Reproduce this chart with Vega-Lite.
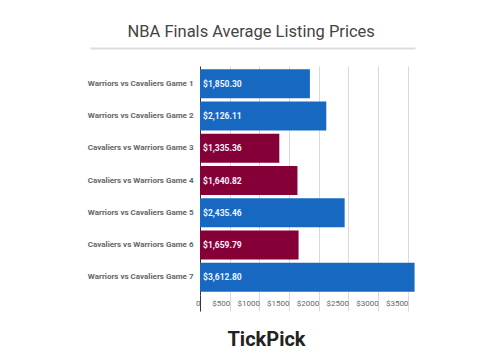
{
  "$schema": "https://vega.github.io/schema/vega-lite/v6.json",
  "width": 325,
  "height": 229,
  "padding": {"left": 87, "top": 23, "right": 88, "bottom": 5},
  "background": "white",
  "config": {"view": {"stroke": null}, "font": "Roboto"},
  "title": {
    "text": "NBA Finals Average Listing Prices",
    "fontSize": 16.5,
    "fontWeight": "normal",
    "color": "#444444",
    "font": "Roboto",
    "anchor": "middle",
    "frame": "bounds",
    "offset": 8
  },
  "data": {
    "values": [
      {"game": "Warriors vs Cavaliers Game 1", "price": 1850.30, "home": "Warriors"},
      {"game": "Warriors vs Cavaliers Game 2", "price": 2126.11, "home": "Warriors"},
      {"game": "Cavaliers vs Warriors Game 3", "price": 1335.36, "home": "Cavaliers"},
      {"game": "Cavaliers vs Warriors Game 4", "price": 1640.82, "home": "Cavaliers"},
      {"game": "Warriors vs Cavaliers Game 5", "price": 2435.46, "home": "Warriors"},
      {"game": "Cavaliers vs Warriors Game 6", "price": 1659.79, "home": "Cavaliers"},
      {"game": "Warriors vs Cavaliers Game 7", "price": 3612.80, "home": "Warriors"}
    ]
  },
  "resolve": {"scale": {"x": "independent"}, "axis": {"x": "independent"}},
  "layer": [
    {
      "layer": [
        {
          "mark": {"type": "bar"},
          "encoding": {
            "y": {
              "field": "game",
              "type": "nominal",
              "sort": null,
              "scale": {"paddingInner": 0.1, "paddingOuter": 0.1},
              "axis": {
                "title": null,
                "offset": -110,
                "ticks": false,
                "domain": true,
                "domainColor": "#333333",
                "domainWidth": 1,
                "labelPadding": 7,
                "labelFontSize": 8,
                "labelFontWeight": "bold",
                "labelColor": "#666666",
                "labelFont": "Roboto"
              }
            },
            "x": {
              "field": "price",
              "type": "quantitative",
              "scale": {"domain": [0, 3620], "range": [110, 325], "nice": false, "zero": true},
              "axis": {
                "orient": "bottom",
                "values": [0, 500, 1000, 1500, 2000, 2500, 3000, 3500],
                "labelExpr": "datum.value === 0 ? '0' : '$' + datum.value",
                "grid": true,
                "gridColor": "#d9d9d9",
                "domain": false,
                "ticks": true,
                "tickSize": 16,
                "tickColor": {"condition": {"test": "datum.value === 0", "value": "#333333"}, "value": "#d9d9d9"},
                "labelAlign": "right",
                "labelDx": -4,
                "labelPadding": -12,
                "labelFontSize": 8,
                "labelColor": "#666666",
                "labelFont": "Roboto",
                "title": "TickPick",
                "titleFontSize": 20,
                "titleFontWeight": "bold",
                "titleColor": "#222222",
                "titleFont": "Roboto",
                "titleX": 176,
                "titlePadding": 18
              }
            },
            "color": {
              "field": "home",
              "type": "nominal",
              "scale": {"domain": ["Warriors", "Cavaliers"], "range": ["#1768c0", "#860038"]},
              "legend": null
            }
          }
        },
        {
          "mark": {"type": "text", "align": "left", "baseline": "middle", "dx": 3, "fontSize": 8.5, "fontWeight": "bold", "color": "#f0f4ff", "font": "Roboto"},
          "encoding": {
            "y": {"field": "game", "type": "nominal", "sort": null},
            "x": {"datum": 0, "type": "quantitative"},
            "text": {"field": "price", "type": "quantitative", "format": "$,.2f"}
          }
        }
      ]
    },
    {
      "mark": {"type": "rule", "opacity": 0},
      "encoding": {
        "x": {
          "datum": 0,
          "type": "quantitative",
          "scale": {"domain": [0, 1]},
          "axis": {
            "orient": "top",
            "domain": true,
            "domainColor": "#dddddd",
            "domainWidth": 2,
            "ticks": false,
            "labels": false,
            "grid": false,
            "offset": 18,
            "title": null
          }
        }
      }
    }
  ]
}
